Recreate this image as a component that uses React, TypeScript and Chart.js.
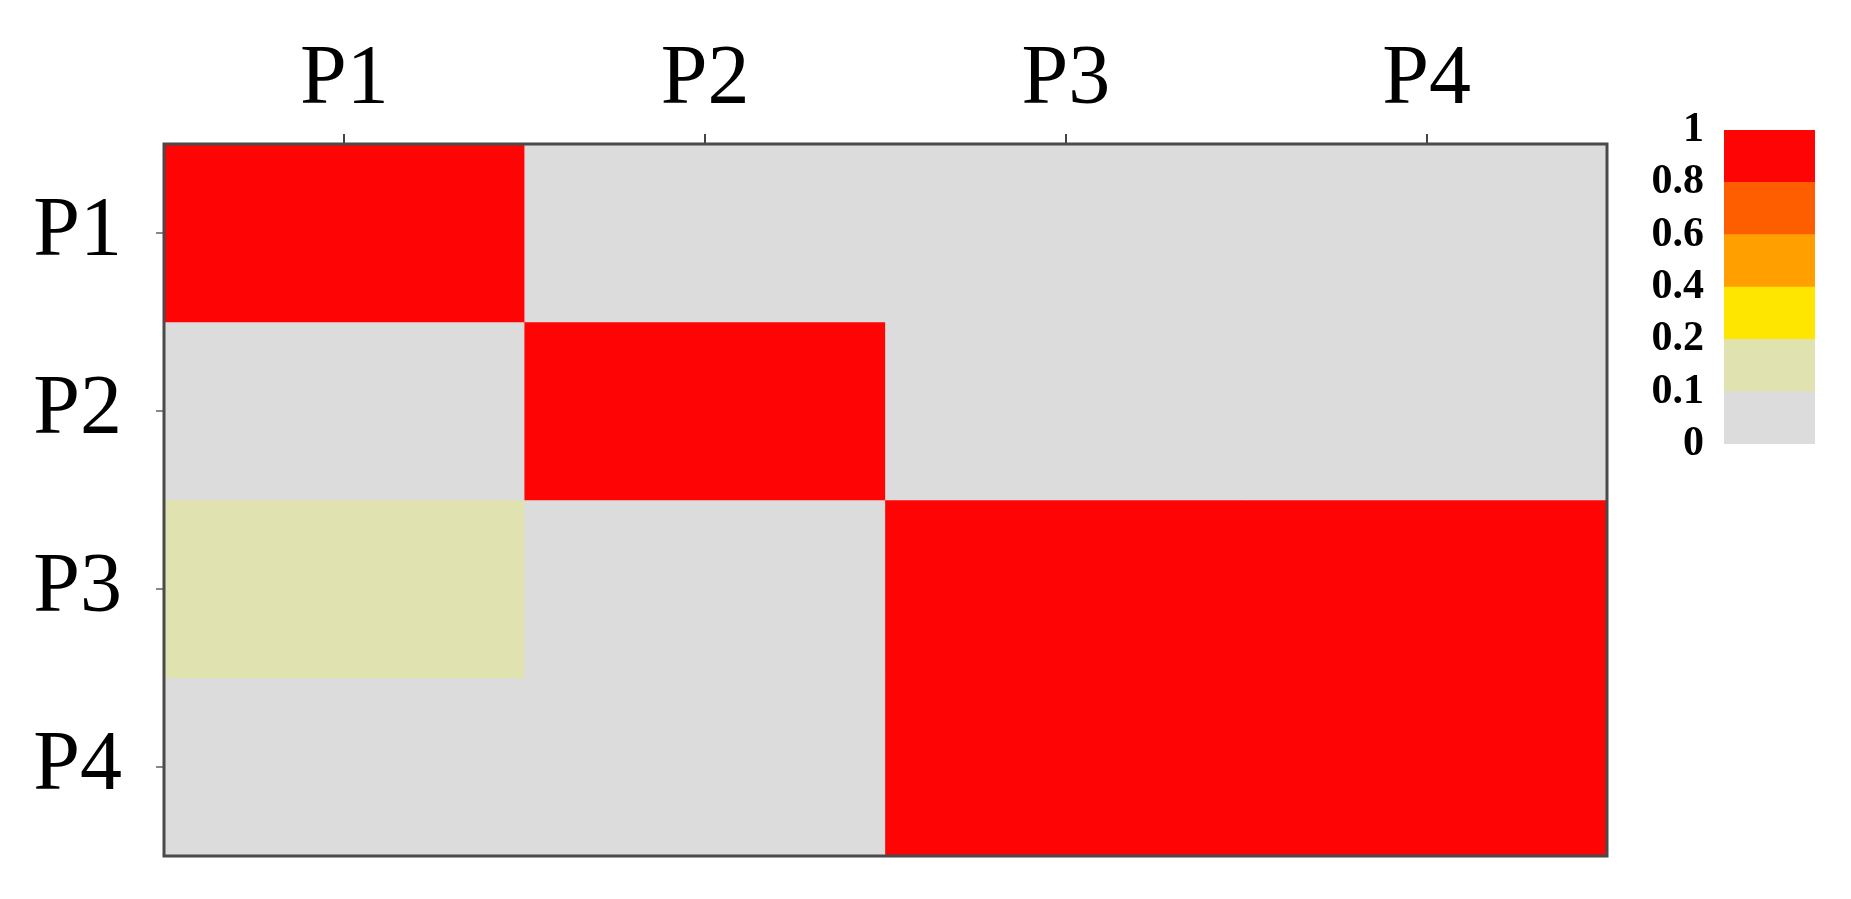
import React, { useEffect, useRef } from "react";
import { Chart, registerables } from "chart.js";

Chart.register(...registerables);

const rowLabels = ["P1", "P2", "P3", "P4"];
const colLabels = ["P1", "P2", "P3", "P4"];
const rowP1 = [1.0, 0.05, 0.05, 0.05];
const rowP2 = [0.05, 1.0, 0.05, 0.05];
const rowP3 = [0.15, 0.05, 1.0, 1.0];
const rowP4 = [0.05, 0.05, 1.0, 1.0];
const matrix = [rowP1, rowP2, rowP3, rowP4];

const binEdges = [0, 0.1, 0.2, 0.4, 0.6, 0.8, 1];
const binLabels = ["0", "0.1", "0.2", "0.4", "0.6", "0.8", "1"];
const binColors = ["#DCDCDC", "#E0E2B0", "#FFE600", "#FFA000", "#FF5E00", "#FF0404"];

const SERIF = '"Liberation Serif", "Times New Roman", "DejaVu Serif", serif';

function colorFor(v: number): string {
  for (let i = binEdges.length - 2; i >= 0; i--) {
    if (v >= binEdges[i]) return binColors[i];
  }
  return binColors[0];
}

const framePlugin = {
  id: "frame",
  afterDatasetsDraw(chart: any) {
    const { ctx, chartArea } = chart;
    ctx.save();
    ctx.strokeStyle = "#4a4a4a";
    ctx.lineWidth = 3;
    ctx.strokeRect(chartArea.left, chartArea.top, chartArea.right - chartArea.left, chartArea.bottom - chartArea.top);
    ctx.restore();
  },
};

export default function App() {
  const mainRef = useRef<HTMLCanvasElement | null>(null);
  const barRef = useRef<HTMLCanvasElement | null>(null);

  useEffect(() => {
    if (!mainRef.current || !barRef.current) return;

    const datasets = matrix.map((row, i) => ({
      label: rowLabels[i],
      data: colLabels.map((c) => ({ x: c, y: [i, i + 1] })),
      backgroundColor: row.map((v) => colorFor(v)),
      borderWidth: 0,
      barPercentage: 1,
      categoryPercentage: 1,
      grouped: false,
    }));

    const main = new Chart(mainRef.current, {
      type: "bar",
      data: { labels: colLabels, datasets: datasets as any },
      plugins: [framePlugin],
      options: {
        animation: false,
        responsive: false,
        devicePixelRatio: 1,
        layout: { padding: { left: 0, top: 0, right: 244, bottom: 43 } },
        plugins: { legend: { display: false }, tooltip: { enabled: false } },
        scales: {
          x: {
            type: "category",
            position: "top",
            offset: true,
            grid: { offset: false, drawOnChartArea: false, drawTicks: true, tickLength: 10, color: "#444", lineWidth: 2 },
            border: { display: false },
            ticks: { font: { family: SERIF, size: 84 }, color: "#000", padding: 3, maxRotation: 0, autoSkip: false },
            afterFit: (s: any) => {
              s.height = 144;
              s.paddingLeft = 0;
              s.paddingRight = 0;
            },
          },
          y: {
            type: "linear",
            min: 0,
            max: 4,
            reverse: true,
            afterBuildTicks: (s: any) => {
              s.ticks = rowLabels.map((_, i) => ({ value: i + 0.5 }));
            },
            grid: { drawOnChartArea: false, drawTicks: true, tickLength: 8, color: "#888", lineWidth: 2 },
            border: { display: false },
            ticks: {
              font: { family: SERIF, size: 84 },
              color: "#000",
              padding: 34,
              autoSkip: false,
              callback: (v: any) => rowLabels[Math.floor(Number(v))] ?? "",
            },
            afterFit: (s: any) => {
              s.width = 164;
              s.paddingTop = 0;
              s.paddingBottom = 0;
            },
          },
        },
      } as any,
    });

    const bar = new Chart(barRef.current, {
      type: "bar",
      data: {
        labels: ["scale"],
        datasets: binColors.map((c, i) => ({
          label: binLabels[i],
          data: [1],
          backgroundColor: c,
          borderWidth: 0,
          barPercentage: 1,
          categoryPercentage: 1,
          stack: "s",
        })),
      },
      options: {
        animation: false,
        responsive: false,
        devicePixelRatio: 1,
        layout: { padding: { left: 0, top: 40, right: 36, bottom: 46 } },
        plugins: { legend: { display: false }, tooltip: { enabled: false } },
        scales: {
          x: { display: false, stacked: true },
          y: {
            stacked: true,
            min: 0,
            max: binColors.length,
            grid: { display: false, drawTicks: false },
            border: { display: false },
            ticks: {
              stepSize: 1,
              autoSkip: false,
              padding: 20,
              color: "#000",
              font: { family: SERIF, size: 42, weight: "bold" },
              callback: (v: any) => binLabels[Math.round(Number(v))] ?? "",
            },
            afterFit: (s: any) => {
              s.width = 124;
              s.paddingTop = 0;
              s.paddingBottom = 0;
            },
          },
        },
      } as any,
    });

    return () => {
      main.destroy();
      bar.destroy();
    };
  }, []);

  return (
    <div style={{ position: "fixed", left: 0, top: 0, width: 1851, height: 899, background: "#fff", overflow: "hidden" }}>
      <canvas ref={mainRef} width={1851} height={899} style={{ position: "absolute", left: 0, top: 0, width: 1851, height: 899 }} />
      <canvas ref={barRef} width={251} height={400} style={{ position: "absolute", left: 1600, top: 90, width: 251, height: 400 }} />
    </div>
  );
}
